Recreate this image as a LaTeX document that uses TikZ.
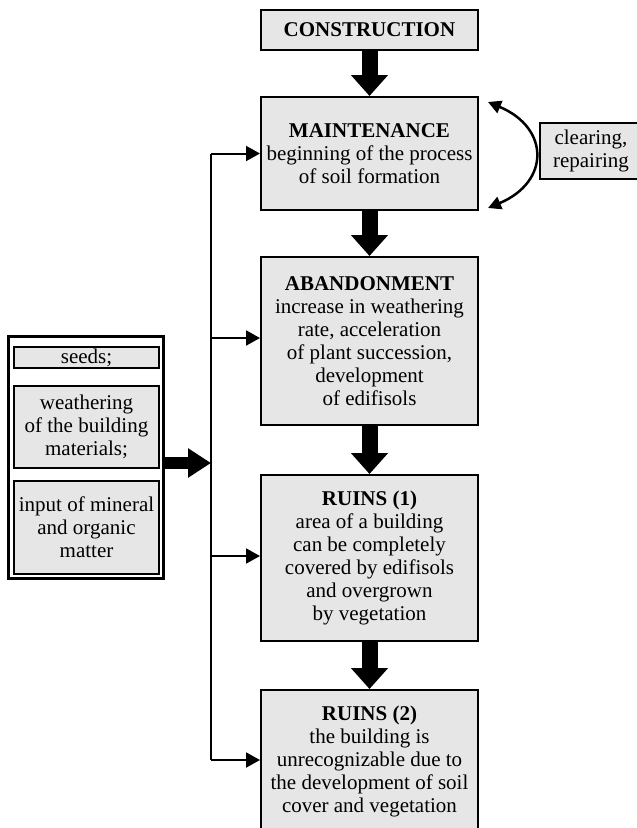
\documentclass[tikz,border=0pt]{standalone}
\usepackage{fontspec}
\setmainfont{Liberation Serif}
\usetikzlibrary{arrows.meta}
\definecolor{boxgray}{RGB}{230,230,230}
\begin{document}
\begin{tikzpicture}[x=1pt,y=-1pt,
  every node/.style={font=\fontsize{21}{23}\selectfont},
  mainbox/.style={draw, line width=2pt, fill=boxgray, minimum width=217pt, align=center, inner sep=0pt},
  smallbox/.style={draw, line width=1.6pt, fill=boxgray, minimum width=145pt, align=center, inner sep=0pt},
  fatarrow/.style={line width=16pt, -{Triangle[width=36pt,length=21pt]}},
  midarrow/.style={line width=12pt, -{Triangle[width=28pt,length=23pt]}},
  thinarrow/.style={line width=2pt, -{Triangle[width=15pt,length=14pt]}},
  curvearrow/.style={line width=2.5pt, {Triangle[width=13pt,length=13pt]}-{Triangle[width=13pt,length=13pt]}}
]
\useasboundingbox (0,0) rectangle (637,828);

\node[mainbox, minimum height=40pt] (cons) at (369.5,30) {\textbf{CONSTRUCTION}};
\node[mainbox, minimum height=113pt] (maint) at (369.5,153.5) {\textbf{MAINTENANCE}\\beginning of the process\\of soil formation};
\node[mainbox, minimum height=168pt] (aband) at (369.5,341) {\textbf{ABANDONMENT}\\increase in weathering\\rate, acceleration\\of plant succession,\\development\\of edifisols};
\node[mainbox, minimum height=166pt] (ruin1) at (369.5,558) {\textbf{RUINS (1)}\\area of a building\\can be completely\\covered by edifisols\\and overgrown\\by vegetation};
\node[mainbox, minimum height=142pt] (ruin2) at (369.5,761) {\textbf{RUINS (2)}\\the building is\\unrecognizable due to\\the development of soil\\cover and vegetation};

\draw[fatarrow] (cons.south) -- (maint.north);
\draw[fatarrow] (maint.south) -- (aband.north);
\draw[fatarrow] (aband.south) -- (ruin1.north);
\draw[fatarrow] (ruin1.south) -- (ruin2.north);

% clearing box and curved arrow
\node[draw, line width=2pt, fill=boxgray, minimum width=102pt, minimum height=56pt, align=center, inner sep=0pt] (clear) at (591,151) {clearing,\\repairing};
\coordinate (c1) at (488,102);
\coordinate (c2) at (488,208);
\draw[curvearrow] (c1) .. controls (550,128) and (550,182) .. (c2);

% left box
\node[draw, line width=3pt, fill=white, minimum width=155pt, minimum height=242pt, inner sep=0pt] (left) at (85.5,457) {};
\node[smallbox, minimum height=21pt] (seeds) at (86.5,357.5) {seeds;};
\node[smallbox, minimum height=82pt] (weath) at (86.5,427) {weathering\\of the building\\materials;};
\node[smallbox, minimum height=93pt] (input) at (86.5,527.5) {input of mineral\\and organic\\matter};

% bus
\coordinate (b1) at (211,153.5);
\coordinate (b2) at (211,338);
\coordinate (b3) at (211,556);
\coordinate (b4) at (211,760);
\coordinate (b0) at (211,463);
\draw[line width=2pt] (b1) -- (b4);
\draw[thinarrow] (b1) -- (b1 -| maint.west);
\draw[thinarrow] (b2) -- (b2 -| aband.west);
\draw[thinarrow] (b3) -- (b3 -| ruin1.west);
\draw[thinarrow] (b4) -- (b4 -| ruin2.west);
\draw[midarrow] (b0 -| left.east) -- (b0);
\end{tikzpicture}
\end{document}
